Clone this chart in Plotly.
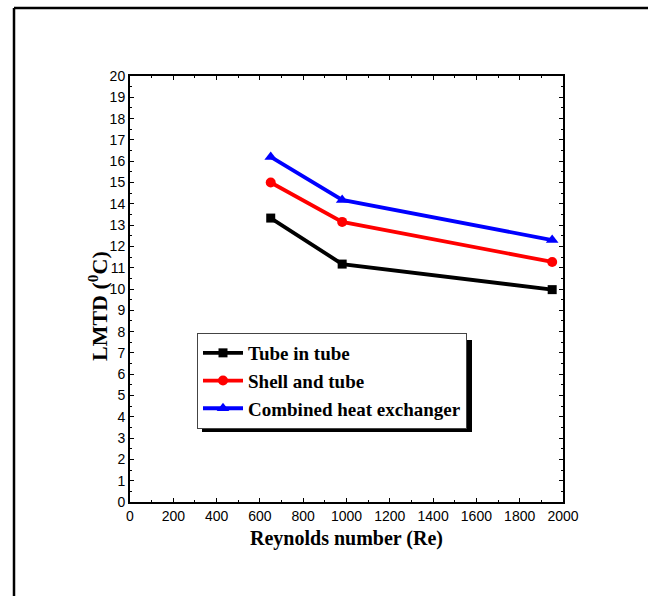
import plotly.graph_objects as go

reynolds = [650, 980, 1950]
tube_in_tube = [13.33, 11.17, 9.97]
shell_and_tube = [15.0, 13.15, 11.27]
combined = [16.2, 14.18, 12.3]

series = [
    ("Tube in tube", tube_in_tube, "black", "square", 9),
    ("Shell and tube", shell_and_tube, "red", "circle", 10),
    ("Combined heat exchanger", combined, "blue", "triangle-up", 11),
]

fig = go.Figure()
for i, (name, vals, col, sym, sz) in enumerate(series):
    fig.add_trace(go.Scatter(
        x=reynolds, y=vals, name=f"<b>{name}</b>", mode="lines+markers",
        line=dict(color=col, width=3.8),
        marker=dict(symbol=sym, size=sz, color=col),
        legendgroup=f"g{i}",
    ))

L, R, T, B = 130, 85, 76, 94
W, H = 648, 596
pw, ph = W - L - R, H - T - B

def px(xp):
    return (xp - L) / pw

def py(yp):
    return (H - B - yp) / ph

tick_font = dict(family="Liberation Sans, Arial", size=14, color="black")
serif = "Liberation Serif, Times New Roman"

fig.update_layout(
    width=W, height=H,
    margin=dict(l=L, r=R, t=T, b=B),
    paper_bgcolor="white", plot_bgcolor="white",
    showlegend=True,
    legend=dict(
        x=px(197), y=py(333), xanchor="left", yanchor="top",
        bgcolor="white", bordercolor="#444", borderwidth=1,
        font=dict(family=serif, size=19, color="black"),
        tracegroupgap=0, itemwidth=40,
    ),
    xaxis=dict(
        range=[0, 2000], dtick=200, tick0=0,
        ticks="inside", ticklen=4, tickwidth=1, tickcolor="black",
        showline=True, linecolor="black", linewidth=2, mirror="ticks",
        showgrid=False, zeroline=False, tickfont=tick_font,
        minor=dict(dtick=100, ticks="inside", ticklen=2, tickcolor="black"),
        title=dict(text="<b>Reynolds number (Re)</b>",
                   font=dict(family=serif, size=20, color="black"), standoff=8),
    ),
    yaxis=dict(
        range=[0, 20], dtick=1, tick0=0,
        ticks="inside", ticklen=4, tickwidth=1, tickcolor="black",
        showline=True, linecolor="black", linewidth=2, mirror="ticks",
        showgrid=False, zeroline=False, tickfont=tick_font,
        minor=dict(dtick=0.5, ticks="inside", ticklen=2, tickcolor="black"),
    ),
    annotations=[
        dict(text="<b>LMTD (<sup>0</sup>C)</b>", xref="paper", yref="paper",
             x=px(98), y=py(306), xanchor="center", yanchor="middle",
             textangle=-90, showarrow=False,
             font=dict(family=serif, size=22, color="black")),
    ],
    shapes=[
        dict(type="rect", xref="paper", yref="paper", layer="below",
             x0=px(202), x1=px(472), y0=py(432), y1=py(340),
             fillcolor="black", line=dict(width=0)),
        dict(type="line", xref="paper", yref="paper",
             x0=px(14), x1=px(648), y0=py(8), y1=py(8),
             line=dict(color="black", width=2.5)),
        dict(type="line", xref="paper", yref="paper",
             x0=px(14), x1=px(14), y0=py(8), y1=py(596),
             line=dict(color="black", width=2.5)),
    ],
)

fig.write_html("out.html")
